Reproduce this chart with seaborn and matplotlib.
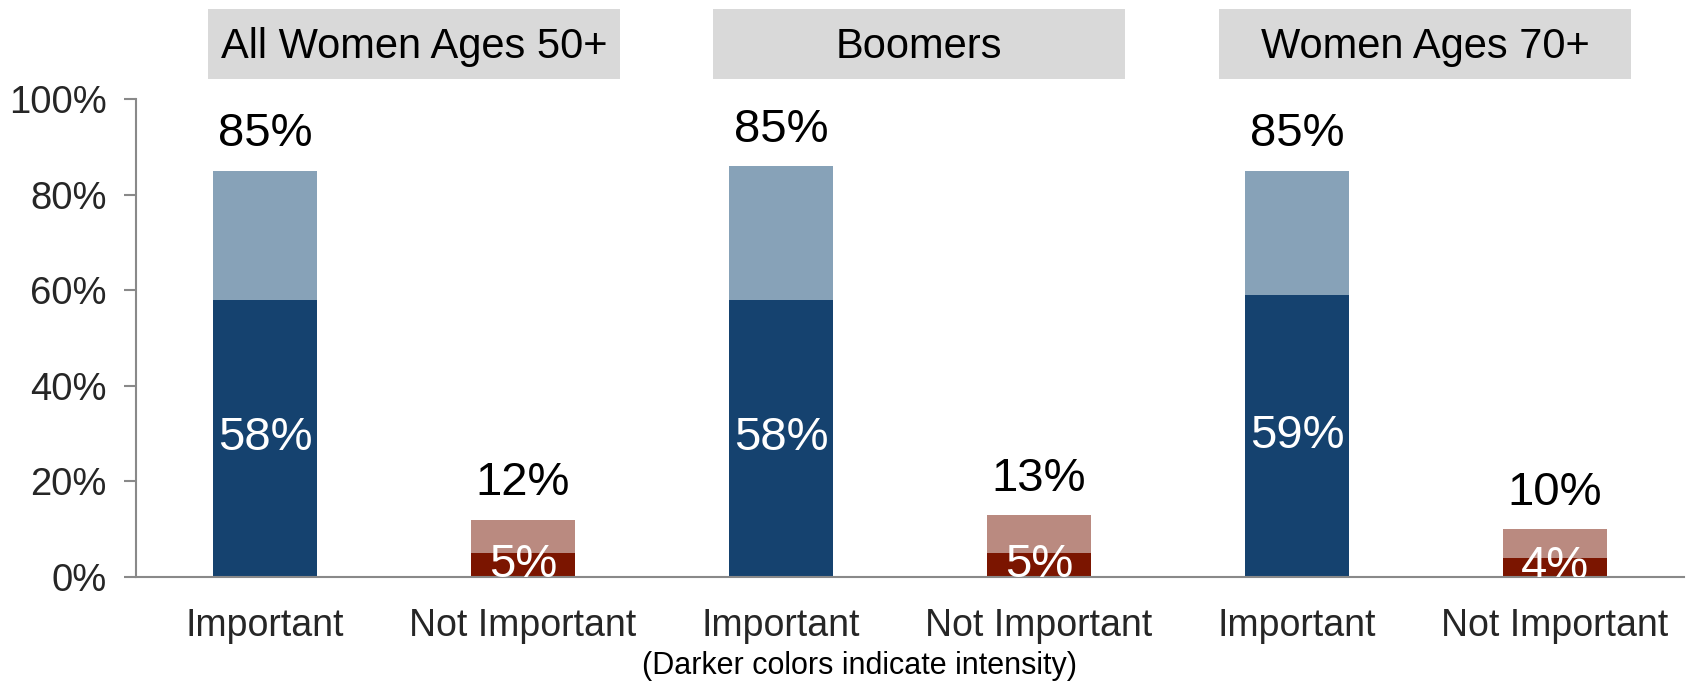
import matplotlib
matplotlib.use("Agg")
import matplotlib.pyplot as plt
from matplotlib.patches import Rectangle
from matplotlib.ticker import FixedLocator
import seaborn as sns
import pandas as pd

# ---- data ----
groups = ["All Women Ages 50+", "Boomers", "Women Ages 70+"]
responses = ["Important", "Not Important"]
total_values = [85, 12, 86, 13, 85, 10]          # light (total) bar heights
intense_values = [58, 5, 58, 5, 59, 4]           # dark (intense) portion
total_labels = ["85%", "12%", "85%", "13%", "85%", "10%"]
intense_labels = ["58%", "5%", "58%", "5%", "59%", "4%"]
y_ticks = [0, 20, 40, 60, 80, 100]
footnote = "(Darker colors indicate intensity)"

light_colors = ["#87A2B8", "#BA8A80"]
dark_colors = ["#15426F", "#7B1500"]

sns.set_theme(style="white")
plt.rcParams["font.family"] = ["Liberation Sans", "DejaVu Sans"]

keys, resp_list = [], []
for g in groups:
    for r in responses:
        keys.append(f"{g}|{r}")
        resp_list.append(r)
df = pd.DataFrame({"key": keys, "resp": resp_list,
                   "total": total_values, "intense": intense_values})

light_pal = {k: light_colors[responses.index(r)] for k, r in zip(keys, resp_list)}
dark_pal = {k: dark_colors[responses.index(r)] for k, r in zip(keys, resp_list)}

fig = plt.figure(figsize=(16.92, 6.82), dpi=100)
ax = fig.add_axes([136 / 1692, 105 / 682, 1548 / 1692, 478 / 682])

sns.barplot(data=df, x="key", y="total", hue="key", palette=light_pal,
            order=keys, width=0.4, legend=False, ax=ax, saturation=1, linewidth=0)
sns.barplot(data=df, x="key", y="intense", hue="key", palette=dark_pal,
            order=keys, width=0.4, legend=False, ax=ax, saturation=1, linewidth=0)

for i in range(len(keys)):
    ax.text(i, total_values[i] + 3, total_labels[i], ha="center", va="bottom",
            fontsize=34, color="black")
    ax.text(i, intense_values[i] / 2, intense_labels[i], ha="center", va="center",
            fontsize=34, color="white", clip_on=True)

ax.set_xlim(-0.5, len(keys) - 0.5)
ax.set_ylim(0, 100)
ax.set_yticks(y_ticks)
ax.set_yticklabels([f"{v}%" for v in y_ticks], fontsize=27.5)
ax.set_xticks(range(len(keys)))
ax.set_xticklabels(resp_list, fontsize=27)
ax.xaxis.set_minor_locator(FixedLocator([i - 0.5 for i in range(len(keys) + 1)]))
ax.tick_params(axis="x", which="major", length=0, pad=22)
ax.tick_params(axis="x", which="minor", length=9, width=1.5, color="#898989", direction="out")
ax.tick_params(axis="y", length=9, width=1.5, color="#898989", direction="out", pad=12, left=True)
ax.set_xlabel("")
ax.set_ylabel("")
for s in ["top", "right"]:
    ax.spines[s].set_visible(False)
for s in ["left", "bottom"]:
    ax.spines[s].set_color("#898989")
    ax.spines[s].set_linewidth(1.5)

# header boxes
box_x = [208, 713, 1219]
for g, x0 in zip(groups, box_x):
    fig.patches.append(Rectangle((x0 / 1692, 603 / 682), 412 / 1692, 70 / 682,
                                 transform=fig.transFigure, facecolor="#D9D9D9",
                                 edgecolor="none"))
    fig.text((x0 + 206) / 1692, 635 / 682, g, ha="center", va="center",
             fontsize=30, color="black")

fig.text(860 / 1692, 16 / 682, footnote, ha="center", va="center", fontsize=22, color="black")

fig.savefig("out.png", dpi=100)
